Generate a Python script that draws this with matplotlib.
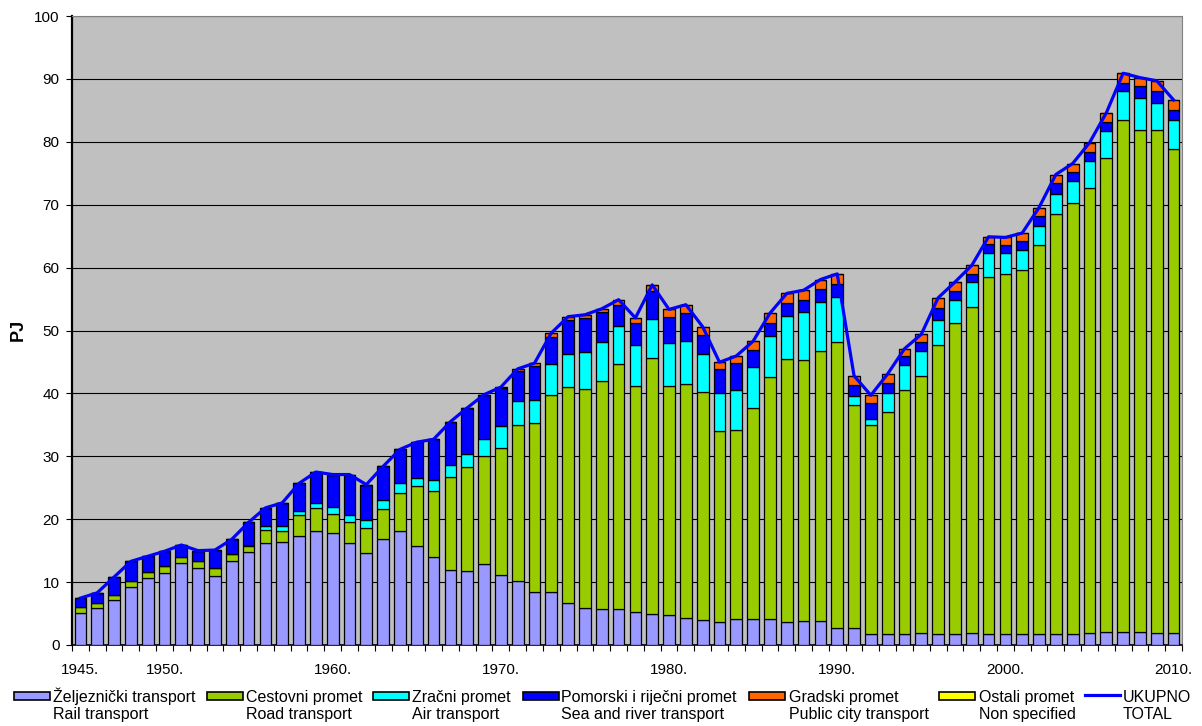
import numpy as np
import matplotlib
matplotlib.use("Agg")
import matplotlib.pyplot as plt
from matplotlib.patches import Rectangle
from matplotlib.lines import Line2D

plt.rcParams['font.family'] = ['Liberation Sans', 'DejaVu Sans']

years = list(range(1945, 2011))

rail = [5.1, 5.85, 7.2, 9.3, 10.6, 11.5, 13.1, 12.2, 10.9, 13.3,
        14.85, 16.2, 16.35, 17.4, 18.15, 17.85, 16.15, 14.6, 16.8, 18.1,
        15.7, 13.95, 11.85, 11.7, 12.8, 11.15, 10.1, 8.4, 8.4, 6.7,
        5.85, 5.75, 5.65, 5.3, 4.85, 4.7, 4.35, 4.0, 3.7, 4.15,
        4.1, 4.1, 3.7, 3.8, 3.85, 2.65, 2.65, 1.7, 1.8, 1.75,
        1.85, 1.8, 1.8, 1.85, 1.8, 1.7, 1.7, 1.8, 1.8, 1.8,
        1.9, 2.0, 2.05, 2.0, 1.85, 1.85]
road = [0.9, 0.8, 0.8, 0.95, 1.0, 1.05, 0.85, 1.1, 1.3, 1.1,
        0.95, 2.15, 1.85, 3.2, 3.6, 3.0, 3.35, 4.0, 4.8, 6.1,
        9.5, 10.6, 14.85, 16.6, 17.3, 20.2, 24.85, 26.85, 31.4, 34.3,
        34.85, 36.3, 38.95, 35.85, 40.8, 36.4, 37.15, 36.25, 30.4, 30.05,
        33.55, 38.5, 41.7, 41.5, 42.85, 45.55, 35.55, 33.3, 35.3, 38.75,
        40.95, 45.85, 49.4, 51.95, 56.7, 57.3, 57.9, 61.75, 66.8, 68.45,
        70.8, 75.5, 81.45, 79.9, 79.95, 77.05]
air = [0.0, 0.0, 0.0, 0.0, 0.0, 0.0, 0.0, 0.0, 0.0, 0.0,
       0.1, 0.55, 0.65, 0.7, 0.8, 1.05, 1.2, 1.2, 1.4, 1.6,
       1.3, 1.7, 1.9, 2.1, 2.6, 3.5, 3.85, 3.75, 4.9, 5.2,
       5.95, 6.1, 6.1, 6.5, 6.2, 6.95, 6.9, 6.05, 5.9, 6.4,
       6.55, 6.6, 6.85, 7.6, 7.8, 7.1, 1.4, 1.0, 2.9, 4.0,
       3.9, 4.05, 3.6, 3.9, 3.8, 3.25, 3.2, 3.1, 3.1, 3.5,
       4.2, 4.25, 4.5, 5.1, 4.3, 4.6]
sea = [1.45, 1.65, 2.8, 3.05, 2.5, 2.35, 1.95, 1.7, 2.9, 2.4,
       3.6, 2.9, 3.75, 4.4, 4.95, 5.2, 6.4, 5.7, 5.4, 5.3,
       5.75, 6.45, 6.9, 7.3, 7.0, 5.95, 4.8, 5.4, 4.3, 5.5,
       5.4, 4.75, 3.4, 3.5, 4.4, 4.05, 4.45, 3.05, 3.85, 4.2,
       2.7, 1.95, 2.1, 2.0, 2.1, 2.1, 1.8, 2.4, 1.7, 1.4,
       1.4, 1.95, 1.5, 1.3, 1.4, 1.3, 1.4, 1.55, 1.75, 1.45,
       1.5, 1.45, 1.4, 1.8, 2.0, 1.6]
city = [0.0, 0.0, 0.0, 0.0, 0.0, 0.0, 0.0, 0.0, 0.0, 0.0,
        0.0, 0.0, 0.0, 0.0, 0.0, 0.0, 0.0, 0.0, 0.0, 0.0,
        0.0, 0.0, 0.0, 0.0, 0.1, 0.2, 0.3, 0.4, 0.6, 0.5,
        0.45, 0.55, 0.8, 0.85, 1.0, 1.25, 1.25, 1.25, 1.1, 1.15,
        1.4, 1.6, 1.55, 1.5, 1.5, 1.6, 1.4, 1.3, 1.4, 1.2,
        1.3, 1.55, 1.4, 1.35, 1.2, 1.25, 1.3, 1.35, 1.35, 1.35,
        1.45, 1.4, 1.5, 1.4, 1.6, 1.55]
other = [0.0] * 66

series = [rail, road, air, sea, city, other]
colors = ['#9999FF', '#99CC00', '#00FFFF', '#0000FF', '#FF6600', '#FFFF00']
labels_hr = ['Željeznički transport', 'Cestovni promet', 'Zračni promet',
             'Pomorski i riječni promet', 'Gradski promet', 'Ostali promet']
labels_en = ['Rail transport', 'Road transport', 'Air transport',
             'Sea and river transport', 'Public city transport', 'Non specified']
total_label = ('UKUPNO', 'TOTAL')
tick_years = [1945, 1950, 1960, 1970, 1980, 1990, 2000, 2010]

W, H = 1202, 726
fig = plt.figure(figsize=(W / 100, H / 100), dpi=100)
fig.patch.set_facecolor('white')
ax = fig.add_axes([72 / W, 1 - 645 / H, (1182 - 72) / W, (645 - 16) / H])
ax.set_facecolor('#C0C0C0')

x = np.arange(len(years))
bottom = np.zeros(len(years))
for vals, col in zip(series, colors):
    v = np.array(vals)
    ax.bar(x, v, width=0.7, bottom=bottom, color=col, edgecolor='black',
           linewidth=0.9, zorder=3)
    bottom += v
total = bottom.copy()
ax.plot(x, total, color='#0000FF', linewidth=2.3, zorder=4)

ax.set_xlim(-0.5, len(years) - 0.5)
ax.set_ylim(0, 100)
ax.set_yticks(np.arange(0, 101, 10))
ax.yaxis.grid(True, color='black', linewidth=0.8, zorder=0)
ax.set_axisbelow(True)
ax.tick_params(axis='y', direction='out', length=4, width=0.8, pad=5,
               labelsize=11, colors='black')

ax.set_xticks([years.index(y) for y in tick_years])
ax.set_xticklabels([f'{y}.' for y in tick_years], fontsize=11)
ax.set_xticks(np.arange(-0.5, len(years), 1.0), minor=True)
ax.tick_params(axis='x', which='major', length=0, pad=13)
ax.tick_params(axis='x', which='minor', direction='out', length=4, width=0.8)

for s in ['top', 'right']:
    ax.spines[s].set_color('#808080')
    ax.spines[s].set_linewidth(0.8)
ax.spines['left'].set_linewidth(1.6)
ax.spines['bottom'].set_linewidth(1.2)

fig.text(18.5 / W, 1 - 330 / H, 'PJ', rotation=90, fontsize=13,
         fontweight='bold', ha='center', va='center')

# Legend (manual, two-line labels)
handle_x = [14, 207, 373, 523, 749, 939]
text_x = [53, 246, 412, 561, 789, 979]
fs_leg = 11.5
for hx, tx, col, l1, l2 in zip(handle_x, text_x, colors, labels_hr, labels_en):
    fig.add_artist(Rectangle((hx / W, 1 - 700 / H), 36 / W, 8 / H,
                             transform=fig.transFigure, facecolor=col,
                             edgecolor='black', linewidth=1.2))
    fig.text(tx / W, 1 - 702 / H, l1, fontsize=fs_leg, ha='left', va='baseline')
    fig.text(tx / W, 1 - 719 / H, l2, fontsize=fs_leg, ha='left', va='baseline')
fig.add_artist(Line2D([1085 / W, 1120 / W], [1 - 695 / H, 1 - 695 / H],
                      transform=fig.transFigure, color='#0000FF', linewidth=2.3))
fig.text(1123 / W, 1 - 702 / H, total_label[0], fontsize=fs_leg, ha='left', va='baseline')
fig.text(1123 / W, 1 - 719 / H, total_label[1], fontsize=fs_leg, ha='left', va='baseline')

fig.savefig('out.png', dpi=100)
